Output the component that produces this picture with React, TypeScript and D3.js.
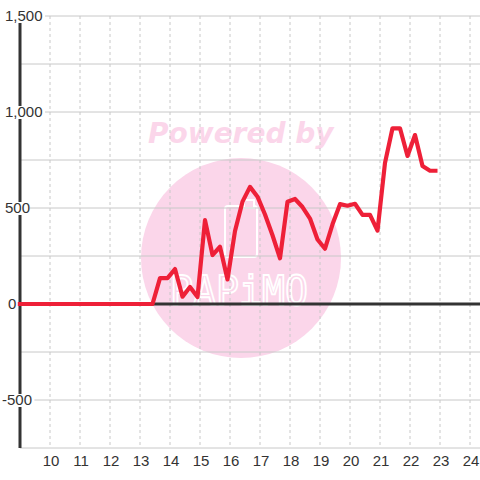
import React from "react";
import * as d3 from "d3";

// ---- data ----
const firstSampleHour = 8 + 55 / 60; // 8:55, samples every 15 minutes
const sampleStepHours = 0.25;
const values: number[] = [
  0, 0, 0, 0, 0, 0, 0, 0, 0, 0, 0, 0, 0, 0, 0, 0, 0, 0, 0,
  135, 135, 182, 38, 89, 36, 437, 255, 298, 128,
  380, 533, 610, 559, 466, 358, 238, 533, 547, 505, 445, 336,
  288, 415, 520, 512, 522, 464, 464, 382, 735, 915, 915, 771,
  880, 719, 694, 694,
];
const xTicks = [10, 11, 12, 13, 14, 15, 16, 17, 18, 19, 20, 21, 22, 23, 24];
const yTicks = [-500, 0, 500, 1000, 1500];
const yGrid = [-750, -500, -250, 0, 250, 500, 750, 1000, 1250, 1500];

const W = 480;
const H = 480;
const left = 20;
const right = 480;
const top = 16;
const bottom = 448;

export default function App() {
  const x = d3.scaleLinear().domain([9, 9 + (right - left) / 30]).range([left, right]);
  const y = d3.scaleLinear().domain([-750, 1500]).range([bottom, top]);
  const pts: [number, number][] = values.map((v, i) => [firstSampleHour + i * sampleStepHours, v]);
  const line = d3
    .line<[number, number]>()
    .x((d) => x(d[0]))
    .y((d) => y(d[1]));
  const fmt = d3.formatLocale({ decimal: ".", thousands: ",", grouping: [3], currency: ["", ""], minus: "-" }).format(",");
  const labelNudge: Record<number, number> = { 0: 3, [-500]: -3 };
  const labelFont = "'Liberation Sans', Arial, sans-serif";

  return (
    <svg
      width={W}
      height={H}
      style={{ position: "fixed", left: 0, top: 0, background: "#fff" }}
    >
      <rect x={0} y={0} width={W} height={H} fill="#fff" />
      {/* watermark */}
      <g>
        <circle cx={241} cy={258} r={100} fill="#fbd6ea" />
        <text
          x={148}
          y={143}
          fontFamily="'DejaVu Sans', Verdana, sans-serif"
          fontWeight="bold"
          fontStyle="italic"
          fontSize={28}
          fill="#fbd6ea"
        >
          Powered by
        </text>
        <rect x={225} y={206} width={32} height={51} rx={3} fill="none" stroke="#fff" strokeWidth={2} />
        <rect x={244} y={200} width={10} height={8} fill="#fbd6ea" stroke="#fff" strokeWidth={2} />
        <text
          x={170}
          y={305}
          fontFamily="'DejaVu Sans Mono', monospace"
          fontSize={40}
          fill="none"
          stroke="#fff"
          strokeWidth={1.8}
          textLength={138}
          lengthAdjust="spacingAndGlyphs"
        >
          PAPiMO
        </text>
      </g>
      {/* grid */}
      {yGrid.map((v) => (
        <line key={"g" + v} x1={left} x2={right} y1={y(v)} y2={y(v)} stroke="#c8c8c8" strokeWidth={1} />
      ))}
      {xTicks.map((t) => (
        <line
          key={"v" + t}
          x1={x(t)}
          x2={x(t)}
          y1={top}
          y2={bottom}
          stroke="#c8c8c8"
          strokeWidth={1}
          strokeDasharray="3,3"
        />
      ))}
      {/* axes */}
      <line x1={left} x2={right} y1={y(0)} y2={y(0)} stroke="#333" strokeWidth={3} />
      <line x1={left} x2={left} y1={top} y2={bottom} stroke="#333" strokeWidth={3} />
      {/* series */}
      <path d={line(pts) || ""} fill="none" stroke="#ee2038" strokeWidth={4.2} strokeLinejoin="round" />
      {/* y labels */}
      {yTicks.map((v) => {
        const lx = 5 + (labelNudge[v] || 0);
        const label = fmt(v);
        const w = label.length * 7.6 + 2;
        return (
          <g key={"yl" + v}>
            <rect x={lx - 2} y={y(v) - 6} width={w + 2} height={13} fill="#fff" />
            <text
              x={lx}
              y={y(v)}
              dy="0.35em"
              fontFamily={labelFont}
              fontSize={15}
              fill="#333"
            >
              {label}
            </text>
          </g>
        );
      })}
      {/* x labels */}
      {xTicks.map((t) => (
        <text
          key={"xl" + t}
          x={x(t) + 1}
          y={466}
          textAnchor="middle"
          fontFamily={labelFont}
          fontSize={15}
          fill="#333"
        >
          {t}
        </text>
      ))}
    </svg>
  );
}
